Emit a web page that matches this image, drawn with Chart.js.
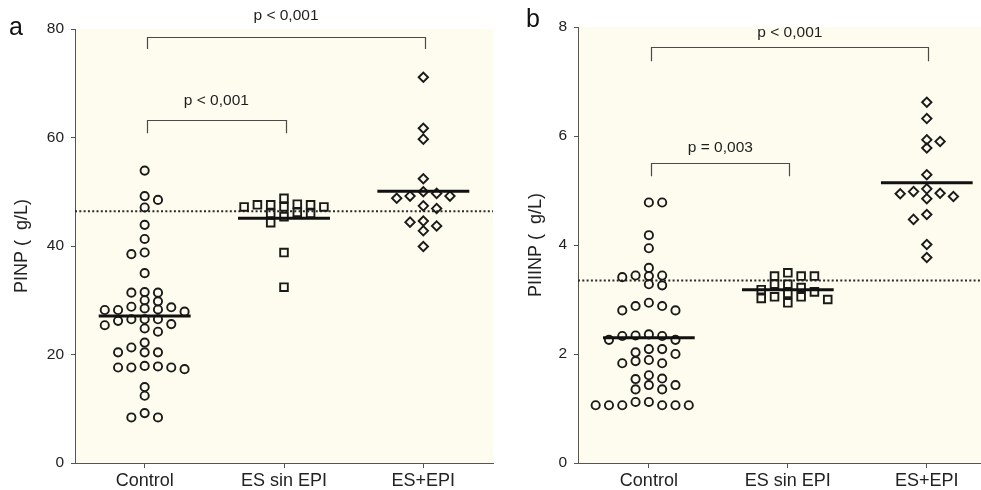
<!DOCTYPE html>
<html><head><meta charset="utf-8">
<script src="https://cdn.jsdelivr.net/npm/chart.js@4.4.0/dist/chart.umd.min.js"></script>
<style>
html,body{margin:0;padding:0;background:#fff;width:981px;height:490px;overflow:hidden;}
#ca{position:absolute;left:0;top:0;}
#cb{position:absolute;left:496px;top:0;}
</style></head><body>
<canvas id="ca" width="496" height="490"></canvas>
<canvas id="cb" width="485" height="490"></canvas>
<script>
// ---------- data ----------
const categories = ['Control', 'ES sin EPI', 'ES+EPI'];

// Panel a: PINP
const pinpControl = [53.9, 49.2, 48.5, 47.1, 43.9, 41.3, 38.5, 38.8, 35.0,
  31.5, 31.4, 31.4, 29.8, 30.0,
  28.7, 28.2, 28.3, 27.9, 28.2, 28.5, 28.8,
  26.5, 26.5, 25.4, 24.2, 26.2, 24.8, 25.6, 26.5,
  21.3, 20.4, 20.4, 20.4, 22.2,
  17.8, 17.6, 17.3, 17.6, 17.6, 17.9,
  14.0, 12.4, 9.2, 8.4, 8.4];
const pinpEsSinEpi = [48.8, 47.2, 47.7, 47.6, 47.6, 47.6, 47.2, 47.2,
  46.2, 46.0, 45.4, 46.0, 44.3, 38.8, 32.4];
const pinpEsEpi = [71.1, 61.7, 59.7, 52.4, 49.2, 48.8, 50.0, 49.2, 49.7,
  46.9, 47.4, 44.6, 43.7, 42.8, 44.4, 39.9];
const pinpMedians = [27.1, 45.1, 50.1];
const pinpReference = 46.4;
const pinpTicks = [0, 20, 40, 60, 80];

// Panel b: PIIINP
const piiinpControl = [4.78, 4.78, 4.18, 3.94, 3.58,
  3.44, 3.41, 3.43, 3.44, 3.26, 3.28,
  2.88, 2.80, 2.80, 2.88, 2.94,
  2.34, 2.33, 2.26, 2.26, 2.33, 2.36,
  2.09, 2.03, 2.00, 2.09,
  1.89, 1.83, 1.87, 1.83,
  1.55, 1.61, 1.54,
  1.43, 1.35, 1.35, 1.43,
  1.12, 1.06, 1.06, 1.06, 1.12, 1.06, 1.06, 1.06];
const piiinpEsSinEpi = [3.43, 3.28, 3.05, 3.22, 3.14, 3.02, 3.49, 3.18, 2.94,
  3.28, 3.00, 3.43, 3.05, 3.43, 3.11];
const piiinpEsEpi = [6.62, 6.32, 5.93, 5.78, 5.90, 5.29,
  4.98, 4.94, 4.85, 4.89, 4.95, 5.03, 4.56, 4.47, 4.01, 3.77];
const piiinpMedians = [2.30, 3.18, 5.14];
const piiinpReference = 3.35;
const piiinpTicks = [0, 2, 4, 6, 8];

// comparisons: [fromGroup, toGroup, bracketY, dropY, textY, label]
const pinpComparisons = [
  [0, 2, 78.5, 76.3, 82.4, 'p < 0,001'],
  [0, 1, 63.2, 60.8, 66.7, 'p < 0,001']
];
const piiinpComparisons = [
  [0, 2, 7.63, 7.37, 7.89, 'p < 0,001'],
  [0, 1, 5.50, 5.26, 5.78, 'p = 0,003']
];

// ---------- rendering ----------
Chart.defaults.font.family = '"Liberation Sans", Arial, Helvetica, sans-serif';
Chart.defaults.color = '#222';
const CREAM = '#fdfcee';
const INK = '#1a1a1a';
const AXIS = '#555';

function swarm(values, center, xs, ys, stepPx, vPx) {
  const pxPerCat = Math.abs(xs.getPixelForValue(1) - xs.getPixelForValue(0));
  const h = stepPx / 2 / pxPerCat;
  const order = values.map((v, i) => i).sort((a, b) => values[b] - values[a] || a - b);
  const placed = [];
  const out = new Array(values.length);
  let pos = 0, neg = 0;
  for (const i of order) {
    const py = ys.getPixelForValue(values[i]);
    const near = placed.filter(p => Math.abs(p.py - py) < vPx);
    let chosen = null;
    for (let m = 0; m < 80 && chosen === null; m++) {
      const cands = m === 0 ? [0] : (pos <= neg ? [m, -m] : [-m, m]);
      for (const k of cands) {
        if (near.every(p => Math.abs(p.k - k) >= 2)) { chosen = k; break; }
      }
    }
    if (chosen > 0) pos++; else if (chosen < 0) neg++;
    placed.push({k: chosen, py});
    out[i] = center + chosen * h;
  }
  return out;
}

function makePanel(id, p) {
  const styles = [
    {pointStyle: 'circle', pointRadius: 4.1},
    {pointStyle: 'rect', pointRadius: 5.4},
    {pointStyle: 'rectRot', pointRadius: 4.7}
  ];
  const pointSets = p.groups.map((vals, gi) => ({
    type: 'scatter',
    data: vals.map(v => ({x: gi, y: v})),
    pointStyle: styles[gi].pointStyle,
    pointRadius: styles[gi].pointRadius,
    pointBorderWidth: 1.9,
    pointBorderColor: INK,
    pointBackgroundColor: 'rgba(0,0,0,0)',
    showLine: false,
    order: 1
  }));
  const medianSets = p.medians.map((m, gi) => ({
    type: 'line',
    data: [{x: gi - 0.33, y: m}, {x: gi + 0.33, y: m}],
    borderColor: '#111', borderWidth: 3, pointRadius: 0, order: 0
  }));
  const refSet = {
    type: 'line',
    data: [{x: p.xMin, y: p.reference}, {x: p.xMax, y: p.reference}],
    borderColor: '#2a2a2a', borderWidth: 1.9, borderDash: [2, 2.3], pointRadius: 0, order: 2
  };

  const bgPlugin = {
    id: 'bg_' + id,
    beforeDraw(chart) {
      const a = chart.chartArea, c = chart.ctx;
      c.save(); c.fillStyle = CREAM;
      c.fillRect(a.left, a.top, a.right - a.left, a.bottom - a.top);
      c.restore();
    }
  };
  const annPlugin = {
    id: 'ann_' + id,
    afterDraw(chart) {
      const c = chart.ctx, xs = chart.scales.x, ys = chart.scales.y;
      c.save();
      p.comparisons.forEach(([g1, g2, yb, yd, yt, label]) => {
        const x1 = xs.getPixelForValue(g1) + 2.5, x2 = xs.getPixelForValue(g2) + 1.5;
        const yB = ys.getPixelForValue(yb), yD = ys.getPixelForValue(yd), yT = ys.getPixelForValue(yt);
        c.strokeStyle = '#4a4a4a'; c.lineWidth = 1.2;
        c.beginPath();
        c.moveTo(Math.round(x1) + 0.5, yD); c.lineTo(Math.round(x1) + 0.5, Math.round(yB) + 0.5);
        c.lineTo(Math.round(x2) + 0.5, Math.round(yB) + 0.5); c.lineTo(Math.round(x2) + 0.5, yD);
        c.stroke();
        c.font = '15.5px "Liberation Sans", Arial, sans-serif';
        c.fillStyle = '#1e1e1e'; c.textAlign = 'center'; c.textBaseline = 'middle';
        c.fillText(label, (x1 + x2) / 2, yT);
      });
      c.font = '25px "Liberation Sans", Arial, sans-serif';
      c.fillStyle = '#111'; c.textAlign = 'left'; c.textBaseline = 'alphabetic';
      c.fillText(p.panel, p.panelX, p.panelY);
      c.restore();
    }
  };

  const chart = new Chart(document.getElementById(id), {
    type: 'scatter',
    data: {datasets: [refSet, ...medianSets, ...pointSets]},
    options: {
      responsive: false, animation: false, devicePixelRatio: 1, events: [],
      layout: {autoPadding: false, padding: {top: p.padTop, right: p.padRight, left: 0, bottom: 0}},
      plugins: {legend: {display: false}, tooltip: {enabled: false}},
      scales: {
        x: {
          type: 'linear', min: p.xMin, max: p.xMax,
          afterBuildTicks: s => { s.ticks = categories.map((c, i) => ({value: i})); },
          afterFit: s => { s.height = 27; s.paddingLeft = 0; s.paddingRight = 0; },
          ticks: {callback: v => categories[v], font: {size: 18}, color: '#222', padding: 2,
                  maxRotation: 0, autoSkip: false},
          grid: {drawOnChartArea: false, drawTicks: true, tickLength: 5, color: AXIS},
          border: {color: AXIS, width: 1}
        },
        y: {
          min: p.yTicks[0], max: p.yTicks[p.yTicks.length - 1],
          afterBuildTicks: s => { s.ticks = p.yTicks.map(v => ({value: v})); },
          afterFit: s => { s.width = p.yWidth; },
          ticks: {font: {size: 15.5}, color: '#222', padding: 7},
          grid: {drawOnChartArea: false, drawTicks: true, tickLength: 4, color: AXIS},
          border: {color: AXIS, width: 1},
          title: {display: true, text: p.yTitle, font: {size: 18}, color: '#222',
                  padding: {top: p.titlePad, bottom: 0}}
        }
      }
    },
    plugins: [bgPlugin, annPlugin]
  });

  const xs = chart.scales.x, ys = chart.scales.y;
  p.groups.forEach((vals, gi) => {
    const xv = swarm(vals, gi, xs, ys, 13.3, 8);
    chart.data.datasets[1 + p.medians.length + gi].data = vals.map((v, j) => ({x: xv[j], y: v}));
  });
  chart.update('none');
  return chart;
}

makePanel('ca', {
  groups: [pinpControl, pinpEsSinEpi, pinpEsEpi],
  medians: pinpMedians, reference: pinpReference, yTicks: pinpTicks,
  comparisons: pinpComparisons, yTitle: 'PINP (  g/L)',
  xMin: -0.5, xMax: 2.5, padTop: 29, padRight: 3, yWidth: 75, titlePad: 11,
  panel: 'a', panelX: 9, panelY: 35
});
makePanel('cb', {
  groups: [piiinpControl, piiinpEsSinEpi, piiinpEsEpi],
  medians: piiinpMedians, reference: piiinpReference, yTicks: piiinpTicks,
  comparisons: piiinpComparisons, yTitle: 'PIIINP (  g/L)',
  xMin: -0.51, xMax: 2.39, padTop: 27, padRight: 0, yWidth: 82, titlePad: 29,
  panel: 'b', panelX: 30, panelY: 27
});
</script>
</body></html>
